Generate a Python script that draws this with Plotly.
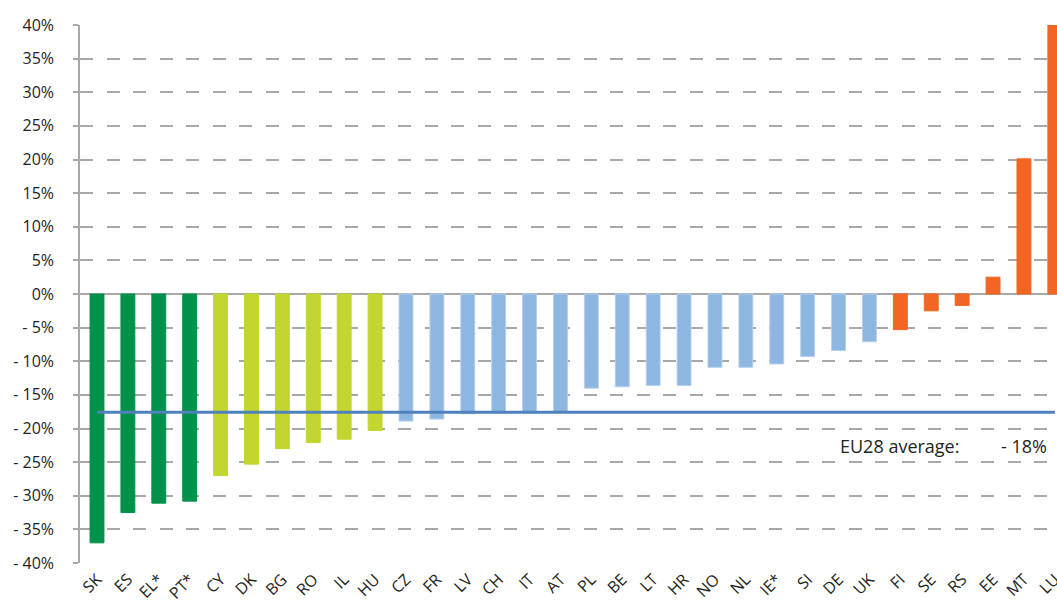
import plotly.graph_objects as go

# Country codes, ordered from the largest fall to the largest rise
countries = ["SK", "ES", "EL*", "PT*", "CY", "DK", "BG", "RO", "IL", "HU",
             "CZ", "FR", "LV", "CH", "IT", "AT", "PL", "BE", "LT", "HR",
             "NO", "NL", "IE*", "SI", "DE", "UK", "FI", "SE", "RS", "EE",
             "MT", "LU"]

# Change in per cent
change = [-37.0, -32.5, -31.1, -30.8, -27.0, -25.3, -23.0, -22.1, -21.6, -20.3,
          -18.9, -18.6, -17.8, -17.7, -17.7, -17.6, -14.0, -13.8, -13.6, -13.6,
          -10.9, -10.9, -10.4, -9.3, -8.4, -7.1, -5.3, -2.5, -1.7, 2.5,
          20.1, 40.0]

# Colour group of each country
group = ["a"] * 4 + ["b"] * 6 + ["c"] * 16 + ["d"] * 6

eu28_average = -17.6

y_ticks = list(range(40, -45, -5))
y_tick_text = [f"{v}%" if v >= 0 else f"- {abs(v)}%" for v in y_ticks]

palette = {"a": "#00924B", "b": "#C2D62F", "c": "#8DB6E0", "d": "#F26522"}
edge = {"a": "#00924B", "b": "#C2D62F", "c": "#B5CFEC", "d": "#F26522"}

text_color = "#231F20"
grid_color = "#A8A8A8"
font_family = "Open Sans, Noto Sans, sans-serif"

fig = go.Figure()

fig.add_trace(go.Bar(
    x=countries,
    y=change,
    marker=dict(color=[palette[g] for g in group],
                line=dict(color=[edge[g] for g in group], width=1)),
    showlegend=False,
    hoverinfo="x+y",
))

# EU28 average reference line
fig.add_trace(go.Scatter(
    x=[countries[0], countries[-1]],
    y=[eu28_average, eu28_average],
    mode="lines",
    line=dict(color="#4F81BD", width=3),
    showlegend=False,
    hoverinfo="skip",
))

fig.add_annotation(
    x=0.776, xref="paper", xanchor="left",
    y=-22.6, yref="y", yanchor="middle",
    text="EU28 average:", showarrow=False,
    font=dict(size=18, color=text_color, family=font_family),
)
fig.add_annotation(
    x=0.992, xref="paper", xanchor="right",
    y=-22.6, yref="y", yanchor="middle",
    text=f"- {abs(round(eu28_average))}%", showarrow=False,
    font=dict(size=18, color=text_color, family=font_family),
)

fig.update_layout(
    width=1057,
    height=605,
    margin=dict(l=80, r=0, t=25, b=42, autoexpand=False),
    paper_bgcolor="white",
    plot_bgcolor="white",
    bargap=0.55,
    font=dict(family=font_family, color=text_color, size=16),
)

fig.update_xaxes(
    type="category",
    range=[-0.55, 31.07],
    tickangle=-45,
    tickfont=dict(size=16, color=text_color),
    showgrid=False,
    showline=False,
    ticks="",
    ticklabelstandoff=3,
    automargin=False,
)

fig.update_yaxes(
    range=[-40, 40],
    tickvals=y_ticks,
    ticktext=y_tick_text,
    tickfont=dict(size=16, color=text_color),
    showgrid=True,
    gridcolor=grid_color,
    gridwidth=1.5,
    griddash="13px,13.5px",
    zeroline=True,
    zerolinecolor=grid_color,
    zerolinewidth=1.5,
    showline=True,
    linecolor=grid_color,
    linewidth=1.5,
    ticks="outside",
    ticklen=5,
    tickcolor=grid_color,
    tickwidth=1.5,
    ticklabelstandoff=16,
    automargin=False,
)

fig.write_html("out.html")
